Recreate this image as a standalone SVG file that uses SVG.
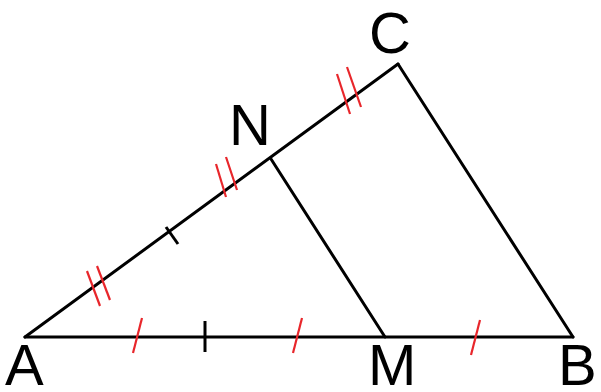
<svg xmlns="http://www.w3.org/2000/svg" width="601" height="392" viewBox="0 0 601 392">
<style>
.ln{stroke:#000;stroke-width:3;stroke-linecap:round;fill:none}
.tk{stroke:#000;stroke-width:3;fill:none}
.rt{stroke:#e8262b;stroke-width:2.2;fill:none}
.lb{font-family:"Liberation Sans",Arial,sans-serif;font-size:58px;fill:#000}
</style>
<rect width="601" height="392" fill="#fff"/>
<g id="connectors">
<line class="ln" x1="25" y1="337" x2="398" y2="64"/>
<line class="ln" x1="25" y1="337" x2="573" y2="337"/>
<line class="ln" x1="398" y1="64" x2="573" y2="337"/>
<line class="ln" x1="271" y1="159" x2="385" y2="337"/>
</g>
<g id="ticks">
<line class="rt" x1="133" y1="353" x2="142" y2="318"/>
<line class="rt" x1="293" y1="353" x2="302" y2="318"/>
<line class="rt" x1="471" y1="355" x2="480" y2="320"/>
<line class="tk" x1="205" y1="321" x2="205" y2="352"/>
<line class="tk" x1="166" y1="227" x2="178" y2="244"/>
<line class="rt" x1="87" y1="271" x2="100" y2="306"/>
<line class="rt" x1="97" y1="266" x2="110" y2="300"/>
<line class="rt" x1="216" y1="164" x2="226" y2="197"/>
<line class="rt" x1="226" y1="157" x2="237" y2="190"/>
<line class="rt" x1="337" y1="74" x2="350" y2="114"/>
<line class="rt" x1="347" y1="67" x2="361" y2="107"/>
</g>
<g id="node-A"><text class="lb" x="5" y="385">A</text></g>
<g id="node-B"><text class="lb" x="558" y="385">B</text></g>
<g id="node-C"><text class="lb" x="369" y="53">C</text></g>
<g id="node-N"><text class="lb" x="229" y="145">N</text></g>
<g id="node-M"><text class="lb" x="368" y="385">M</text></g>
</svg>
